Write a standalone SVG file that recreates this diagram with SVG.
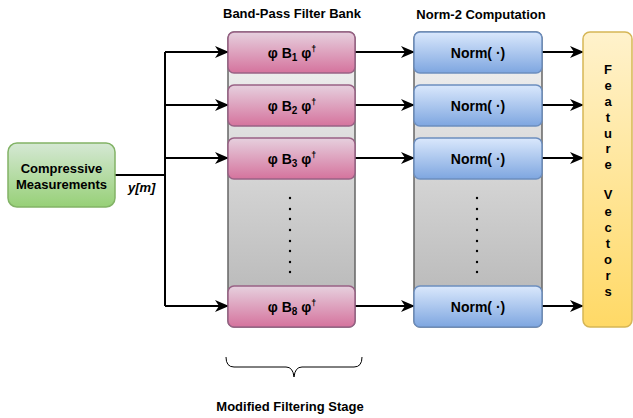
<svg xmlns="http://www.w3.org/2000/svg" width="633" height="418" viewBox="0 0 633 418">
<defs>
<linearGradient id="gGreen" x1="0" y1="0" x2="0" y2="1"><stop offset="0" stop-color="#d5e8d4"/><stop offset="1" stop-color="#97d077"/></linearGradient>
<linearGradient id="gPink" x1="0" y1="0" x2="0" y2="1"><stop offset="0" stop-color="#e6d0de"/><stop offset="1" stop-color="#d5739d"/></linearGradient>
<linearGradient id="gBlue" x1="0" y1="0" x2="0" y2="1"><stop offset="0" stop-color="#dae8fc"/><stop offset="1" stop-color="#7ea6e0"/></linearGradient>
<linearGradient id="gYellow" x1="0" y1="0" x2="0" y2="1"><stop offset="0" stop-color="#fff2cc"/><stop offset="1" stop-color="#ffd966"/></linearGradient>
<linearGradient id="gGray" x1="0" y1="0" x2="0" y2="1"><stop offset="0" stop-color="#f5f5f5"/><stop offset="1" stop-color="#b3b3b3"/></linearGradient>
<marker id="arrB" viewBox="0 0 14 12" refX="13" refY="6" markerWidth="14" markerHeight="12" markerUnits="userSpaceOnUse" orient="auto">
<path d="M0,0 L14,6 L0,12 L4,6 Z" fill="#000"/>
</marker>
</defs>
<style>
text{font-family:"Liberation Sans",Arial,Helvetica,sans-serif;font-weight:bold;fill:#000;}
.lbl{font-size:13px;text-anchor:middle;}
.eq{font-size:14px;text-anchor:middle;}
.pink{fill:url(#gPink);stroke:#996185;stroke-width:1.5;}
.blue{fill:url(#gBlue);stroke:#6c8ebf;stroke-width:1.5;}
.col{fill:url(#gGray);stroke:#666666;stroke-width:1.5;}
.conn{fill:none;stroke:#000;stroke-width:2;}
.fv{font-size:13px;text-anchor:middle;}
.dot{fill:#000;}
</style>

<g id="titles">
<text class="lbl" x="292" y="18">Band-Pass Filter Bank</text>
<text class="lbl" x="481" y="19">Norm-2 Computation</text>
<text class="lbl" x="290" y="411">Modified Filtering Stage</text>
</g>

<g id="filter-column">
<rect class="col" x="228" y="32" width="127" height="295" rx="6"/>
</g>
<g id="norm-column">
<rect class="col" x="414" y="32" width="128" height="295" rx="6"/>
</g>

<g id="connectors">
<path class="conn" d="M115,175 H165"/>
<path class="conn" d="M165,52 V306"/>
<path class="conn" d="M165,52 H228" marker-end="url(#arrB)"/>
<path class="conn" d="M165,105 H228" marker-end="url(#arrB)"/>
<path class="conn" d="M165,158 H228" marker-end="url(#arrB)"/>
<path class="conn" d="M165,306 H228" marker-end="url(#arrB)"/>
<path class="conn" d="M355,52 H414" marker-end="url(#arrB)"/>
<path class="conn" d="M355,105 H414" marker-end="url(#arrB)"/>
<path class="conn" d="M355,158 H414" marker-end="url(#arrB)"/>
<path class="conn" d="M355,306 H414" marker-end="url(#arrB)"/>
<path class="conn" d="M542,52 H583" marker-end="url(#arrB)"/>
<path class="conn" d="M542,105 H583" marker-end="url(#arrB)"/>
<path class="conn" d="M542,158 H583" marker-end="url(#arrB)"/>
<path class="conn" d="M542,306 H583" marker-end="url(#arrB)"/>
<text x="128" y="192" font-size="13" font-style="italic">y[m]</text>
</g>

<g id="compressive">
<rect x="8" y="143" width="107" height="64" rx="9" fill="url(#gGreen)" stroke="#82b366" stroke-width="1.5"/>
<text class="lbl" x="61.5" y="173">Compressive</text>
<text class="lbl" x="61.5" y="189">Measurements</text>
</g>

<g id="B1">
<rect class="pink" x="228" y="32" width="127" height="41" rx="6"/>
<text class="eq" x="292" y="58">φ B<tspan font-size="10" dy="3">1</tspan><tspan dy="-3"> φ</tspan><tspan font-size="9" dy="-6">†</tspan></text>
</g>
<g id="B2">
<rect class="pink" x="228" y="85" width="127" height="41" rx="6"/>
<text class="eq" x="292" y="111">φ B<tspan font-size="10" dy="3">2</tspan><tspan dy="-3"> φ</tspan><tspan font-size="9" dy="-6">†</tspan></text>
</g>
<g id="B3">
<rect class="pink" x="228" y="138" width="127" height="41" rx="6"/>
<text class="eq" x="292" y="164">φ B<tspan font-size="10" dy="3">3</tspan><tspan dy="-3"> φ</tspan><tspan font-size="9" dy="-6">†</tspan></text>
</g>
<g id="B8">
<rect class="pink" x="228" y="286" width="127" height="41" rx="6"/>
<text class="eq" x="292" y="312">φ B<tspan font-size="10" dy="3">8</tspan><tspan dy="-3"> φ</tspan><tspan font-size="9" dy="-6">†</tspan></text>
</g>
<g id="dots-filter">
<circle class="dot" cx="290" cy="198" r="1.2"/>
<circle class="dot" cx="290" cy="209" r="1.2"/>
<circle class="dot" cx="290" cy="219" r="1.2"/>
<circle class="dot" cx="290" cy="230" r="1.2"/>
<circle class="dot" cx="290" cy="241" r="1.2"/>
<circle class="dot" cx="290" cy="251" r="1.2"/>
<circle class="dot" cx="290" cy="262" r="1.2"/>
<circle class="dot" cx="290" cy="272" r="1.2"/>
</g>

<g id="N1">
<rect class="blue" x="414" y="32" width="128" height="41" rx="6"/>
<text class="eq" x="478" y="58">Norm( ·)</text>
</g>
<g id="N2">
<rect class="blue" x="414" y="85" width="128" height="41" rx="6"/>
<text class="eq" x="478" y="111">Norm( ·)</text>
</g>
<g id="N3">
<rect class="blue" x="414" y="138" width="128" height="41" rx="6"/>
<text class="eq" x="478" y="164">Norm( ·)</text>
</g>
<g id="N8">
<rect class="blue" x="414" y="286" width="128" height="41" rx="6"/>
<text class="eq" x="478" y="312">Norm( ·)</text>
</g>
<g id="dots-norm">
<circle class="dot" cx="477" cy="198" r="1.2"/>
<circle class="dot" cx="477" cy="209" r="1.2"/>
<circle class="dot" cx="477" cy="219" r="1.2"/>
<circle class="dot" cx="477" cy="230" r="1.2"/>
<circle class="dot" cx="477" cy="241" r="1.2"/>
<circle class="dot" cx="477" cy="251" r="1.2"/>
<circle class="dot" cx="477" cy="262" r="1.2"/>
<circle class="dot" cx="477" cy="272" r="1.2"/>
</g>

<g id="feature-vectors">
<rect x="583" y="32" width="49" height="295" rx="7" fill="url(#gYellow)" stroke="#d6b656" stroke-width="1.5"/>
<text class="fv" x="608" y="74">F</text>
<text class="fv" x="608" y="90">e</text>
<text class="fv" x="608" y="106">a</text>
<text class="fv" x="608" y="122">t</text>
<text class="fv" x="608" y="138">u</text>
<text class="fv" x="608" y="153">r</text>
<text class="fv" x="608" y="169">e</text>
<text class="fv" x="608" y="199">V</text>
<text class="fv" x="608" y="216">e</text>
<text class="fv" x="608" y="232">c</text>
<text class="fv" x="608" y="248">t</text>
<text class="fv" x="608" y="264">o</text>
<text class="fv" x="608" y="280">r</text>
<text class="fv" x="608" y="296">s</text>
</g>

<g id="brace">
<path d="M226,357 Q226,367 234,367 L286,367 Q293,367 294,377 Q295,367 302,367 L354,367 Q362,367 362,357" fill="none" stroke="#000" stroke-width="1"/>
</g>
</svg>
